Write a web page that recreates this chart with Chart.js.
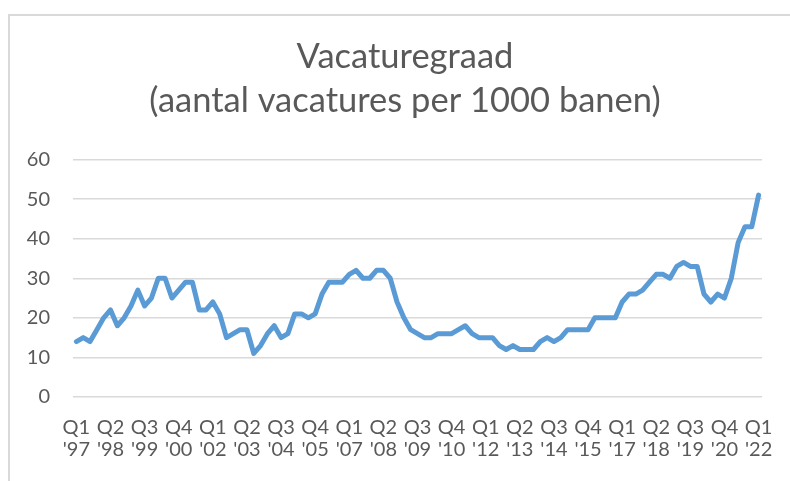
<!DOCTYPE html>
<html>
<head>
<meta charset="utf-8">
<script src="https://cdn.jsdelivr.net/npm/chart.js@4/dist/chart.umd.min.js"></script>
<style>
  html, body { margin: 0; padding: 0; background: #ffffff; }
  #wrap { width: 790px; height: 481px; position: relative; }
</style>
</head>
<body>
<div id="wrap"><canvas id="chart" width="790" height="481"></canvas></div>
<script>
// Vacaturegraad per kwartaal, Q1 1997 t/m Q1 2022
const firstYear = 1997;
const quarterNames = ['Q1', 'Q2', 'Q3', 'Q4'];
const tickEvery = 5;

const vacancyRate = [
  14, 15, 14, 17, 20, 22, 18, 20, 23, 27,
  23, 25, 30, 30, 25, 27, 29, 29, 22, 22,
  24, 21, 15, 16, 17, 17, 11, 13, 16, 18,
  15, 16, 21, 21, 20, 21, 26, 29, 29, 29,
  31, 32, 30, 30, 32, 32, 30, 24, 20, 17,
  16, 15, 15, 16, 16, 16, 17, 18, 16, 15,
  15, 15, 13, 12, 13, 12, 12, 12, 14, 15,
  14, 15, 17, 17, 17, 17, 20, 20, 20, 20,
  24, 26, 26, 27, 29, 31, 31, 30, 33, 34,
  33, 33, 26, 24, 26, 25, 30, 39, 43, 43,
  51
];

const yTicks = [0, 10, 20, 30, 40, 50, 60];
const titleLines = ['Vacaturegraad', '(aantal vacatures per 1000 banen)'];

// quarter labels as [quarter, 'yy]
const categories = vacancyRate.map((_, i) => {
  const year = firstYear + Math.floor(i / 4);
  return [quarterNames[i % 4], "'" + String(year).slice(2)];
});

const textColor = '#595959';
const gridColor = '#d9d9d9';

// white background + light frame (partly cut off at right/bottom)
const framePlugin = {
  id: 'frame',
  beforeDraw(chart) {
    const ctx = chart.ctx;
    ctx.save();
    ctx.fillStyle = '#ffffff';
    ctx.fillRect(0, 0, chart.width, chart.height);
    ctx.strokeStyle = gridColor;
    ctx.lineWidth = 2;
    ctx.strokeRect(9, 15, chart.width + 20, chart.height + 20);
    ctx.restore();
  }
};

// two-line title centred over the whole frame, not only the plot
const titlePlugin = {
  id: 'frameTitle',
  afterDraw(chart) {
    const ctx = chart.ctx;
    ctx.save();
    ctx.fillStyle = textColor;
    ctx.font = 'normal 34.5px Lato';
    ctx.textAlign = 'center';
    ctx.textBaseline = 'alphabetic';
    ctx.fillText(titleLines[0], 405, 68);
    ctx.fillText(titleLines[1], 405, 111.5);
    ctx.restore();
  }
};

new Chart(document.getElementById('chart').getContext('2d'), {
  type: 'line',
  data: {
    labels: categories,
    datasets: [{
      label: 'Vacaturegraad',
      data: vacancyRate,
      borderColor: '#5b9bd5',
      borderWidth: 5,
      borderJoinStyle: 'round',
      borderCapStyle: 'round',
      pointRadius: 0,
      tension: 0,
      fill: false
    }]
  },
  options: {
    responsive: false,
    animation: false,
    layout: {
      padding: { left: 0, right: 28, top: 159.5, bottom: 8 }
    },
    plugins: {
      legend: { display: false },
      tooltip: { enabled: false },
      title: { display: false }
    },
    scales: {
      x: {
        type: 'category',
        offset: true,
        grid: { display: false },
        border: { display: false },
        ticks: {
          autoSkip: false,
          maxRotation: 0,
          minRotation: 0,
          color: textColor,
          padding: 12,
          font: { family: 'Lato', size: 20, lineHeight: 1.1 },
          callback: (value, index) => index % tickEvery === 0 ? categories[index] : ''
        }
      },
      y: {
        min: yTicks[0],
        max: yTicks[yTicks.length - 1],
        afterFit: scale => { scale.width = 73; },
        afterBuildTicks: scale => { scale.ticks = yTicks.map(v => ({ value: v })); },
        grid: { color: gridColor, lineWidth: 1.5, drawTicks: false },
        border: { display: false },
        ticks: {
          color: textColor,
          padding: 23,
          font: { family: 'Lato', size: 20 }
        }
      }
    }
  },
  plugins: [framePlugin, titlePlugin]
});
</script>
</body>
</html>
